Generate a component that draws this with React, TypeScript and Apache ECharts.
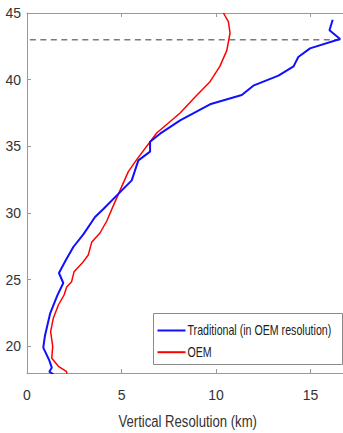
import React, { useEffect, useRef } from "react";
import * as echarts from "echarts";

// Altitude (km) and vertical resolution (km)
const tradAlt = [17.9, 18.1, 18.4, 18.95, 19.9, 20.8, 22.45, 23.8, 24.75, 25.5, 26.45, 27.45, 28.4, 29.7, 30.3, 31.3, 32.45, 33.95, 34.6, 35.35, 35.95, 36.95, 38.15, 38.85, 39.55, 40.3, 41.0, 41.7, 42.35, 43.05, 43.7, 44.5];
const tradRes = [1.39, 1.18, 1.31, 1.18, 0.86, 0.95, 1.22, 1.6, 1.92, 1.69, 2.05, 2.45, 2.98, 3.6, 4.04, 4.74, 5.54, 5.89, 6.51, 6.51, 7.04, 8.1, 9.68, 11.36, 11.97, 13.3, 14.1, 14.35, 14.97, 16.56, 16.0, 16.17];

const oemAlt = [17.9, 18.1, 18.5, 19.1, 20.0, 21.1, 22.1, 23.1, 23.85, 24.45, 24.85, 25.6, 26.35, 26.85, 27.8, 28.5, 29.4, 30.5, 31.7, 33.1, 34.0, 36.0, 37.5, 38.7, 39.85, 41.0, 42.2, 43.5, 44.35, 45.0];
const oemRes = [2.1, 2.1, 1.66, 1.31, 1.36, 1.25, 1.39, 1.66, 1.96, 2.1, 2.36, 2.49, 2.98, 3.24, 3.42, 3.86, 4.22, 4.55, 4.92, 5.36, 5.8, 6.86, 8.1, 8.89, 9.68, 10.2, 10.57, 10.74, 10.65, 10.39];

const refAltitude = 43;
const refLineX = [0.15, 17];

const yTicks = [20, 25, 30, 35, 40, 45];
const xMin = 0;
const xMax = 17;
const yMin = 18;
const yMax = 45;

const seriesNames = ["Traditional (in OEM resolution)", "OEM"];
const seriesColors = ["#1010ff", "#ff0000"];
const xAxisName = "Vertical Resolution (km)";

const FONT = "'Liberation Sans', Arial, sans-serif";

export default function App() {
  const ref = useRef<HTMLDivElement>(null);
  useEffect(() => {
    if (!ref.current) return;
    const chart = echarts.init(ref.current, undefined, { renderer: "svg" });
    const axisColor = "#999999";
    const labelColor = "#333333";

    const gridLeft = 27;
    const gridWidth = 321.4;

    const legendX = 153;
    const legendY = 313;
    const rowY = [17, 38.7];
    const legendChildren: any[] = [
      {
        type: "rect",
        shape: { x: 0, y: 0, width: 189, height: 51 },
        style: { fill: "#ffffff", stroke: "#8a8a8a", lineWidth: 1 },
      },
    ];
    seriesNames.forEach((name, i) => {
      legendChildren.push({
        type: "line",
        shape: { x1: 4, y1: rowY[i], x2: 32, y2: rowY[i] },
        style: { stroke: seriesColors[i], lineWidth: 2 },
      });
      legendChildren.push({
        type: "text",
        x: 34,
        y: rowY[i],
        scaleX: 0.76,
        style: {
          text: name,
          fontFamily: FONT,
          fontSize: 14,
          fill: "#222222",
          verticalAlign: "middle",
          align: "left",
        },
      });
    });

    chart.setOption({
      animation: false,
      backgroundColor: "#ffffff",
      grid: { left: gridLeft, top: 13, width: gridWidth, height: 360, containLabel: false, outerBoundsMode: "none" },
      graphic: [
        {
          type: "group",
          x: legendX + 0.5,
          y: legendY + 0.5,
          z: 100,
          children: legendChildren,
        },
        {
          type: "text",
          x: gridLeft + gridWidth / 2,
          y: 422,
          scaleX: 0.82,
          z: 100,
          style: {
            text: xAxisName,
            fontFamily: FONT,
            fontSize: 16,
            fill: labelColor,
            align: "center",
            verticalAlign: "middle",
          },
        },
      ],
      xAxis: [
        {
          type: "value",
          min: xMin,
          max: xMax,
          interval: 5,
          position: "bottom",
          axisLine: { show: true, onZero: false, lineStyle: { color: axisColor, width: 1 } },
          axisTick: { show: true, inside: true, length: 4, lineStyle: { color: axisColor } },
          axisLabel: { fontFamily: FONT, fontSize: 14, color: labelColor, margin: 15, showMaxLabel: false },
          splitLine: { show: false },
        },
        {
          type: "value",
          min: xMin,
          max: xMax,
          interval: 5,
          position: "top",
          axisLine: { show: true, onZero: false, lineStyle: { color: axisColor, width: 1 } },
          axisTick: { show: true, inside: true, length: 4, lineStyle: { color: axisColor } },
          axisLabel: { show: false },
          splitLine: { show: false },
        },
      ],
      yAxis: {
        type: "value",
        min: yMin,
        max: yMax,
        axisLine: { show: true, onZero: false, lineStyle: { color: axisColor, width: 1 } },
        axisTick: { show: true, inside: true, length: 4, customValues: yTicks, lineStyle: { color: axisColor } },
        axisLabel: { fontFamily: FONT, fontSize: 14, color: labelColor, margin: 6, customValues: yTicks },
        splitLine: { show: false },
      },
      series: [
        {
          name: "ref",
          type: "line",
          data: refLineX.map((x) => [x, refAltitude]),
          symbol: "none",
          silent: true,
          lineStyle: { color: "#7a7a7a", width: 1.5, type: [6, 4.5] },
          z: 1,
        },
        {
          name: seriesNames[0],
          type: "line",
          data: tradRes.map((r, i) => [r, tradAlt[i]]),
          symbol: "none",
          color: seriesColors[0],
          lineStyle: { color: seriesColors[0], width: 2 },
          z: 3,
        },
        {
          name: seriesNames[1],
          type: "line",
          data: oemRes.map((r, i) => [r, oemAlt[i]]),
          symbol: "none",
          color: seriesColors[1],
          lineStyle: { color: seriesColors[1], width: 1.5 },
          z: 2,
        },
      ],
    });
    return () => chart.dispose();
  }, []);
  return (
    <div style={{ position: "absolute", left: 0, top: 0, width: 343, height: 433, overflow: "hidden", background: "#fff" }}>
      <div ref={ref} style={{ width: 343, height: 433 }} />
    </div>
  );
}
